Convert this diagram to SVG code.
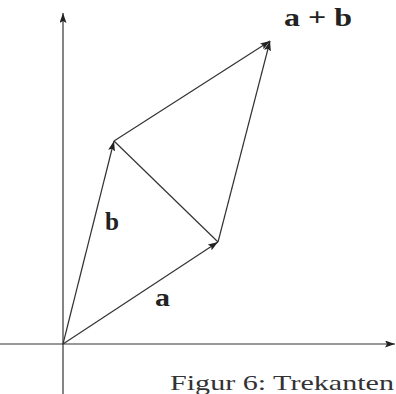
<svg xmlns="http://www.w3.org/2000/svg" width="396" height="394" viewBox="0 0 396 394">
<style>
.ln{stroke:#333;stroke-width:1.2;fill:none}
.lbl{font-family:"Liberation Serif","DejaVu Serif",serif;font-weight:bold;fill:#222;font-size:26px}
.cap{font-family:"Liberation Serif","DejaVu Serif",serif;fill:#333;font-size:21px}
</style>
<defs>
<marker id="ah" viewBox="0 0 10 8" refX="10" refY="4" markerWidth="10" markerHeight="7" markerUnits="userSpaceOnUse" orient="auto" preserveAspectRatio="none">
<path d="M0,0 L10,4 L0,8 L2,4 Z" fill="#222"/>
</marker>
</defs>
<rect width="396" height="394" fill="#fff"/>
<g id="connectors">
<line id="y-axis" class="ln" x1="63" y1="394" x2="63" y2="13" marker-end="url(#ah)"/>
<line id="x-axis" class="ln" x1="0" y1="344" x2="395" y2="344" marker-end="url(#ah)"/>
<line id="vec-a" class="ln" x1="63" y1="344" x2="218" y2="242" marker-end="url(#ah)"/>
<line id="vec-b" class="ln" x1="63" y1="344" x2="114" y2="141" marker-end="url(#ah)"/>
<line id="b-to-sum" class="ln" x1="114" y1="141" x2="270" y2="41" marker-end="url(#ah)"/>
<line id="a-to-sum" class="ln" x1="218" y1="242" x2="270" y2="41" marker-end="url(#ah)"/>
<line id="diag" class="ln" x1="114" y1="141" x2="218" y2="242"/>
</g>
<g id="label-sum"><text class="lbl" x="284" y="26" textLength="68" lengthAdjust="spacingAndGlyphs">a + b</text></g>
<g id="label-b"><text class="lbl" x="105" y="230" textLength="14" lengthAdjust="spacingAndGlyphs">b</text></g>
<g id="label-a"><text class="lbl" x="155" y="306" textLength="15" lengthAdjust="spacingAndGlyphs">a</text></g>
<g id="caption"><text class="cap" x="170" y="390" textLength="224" lengthAdjust="spacingAndGlyphs">Figur 6: Trekanten</text></g>
</svg>
